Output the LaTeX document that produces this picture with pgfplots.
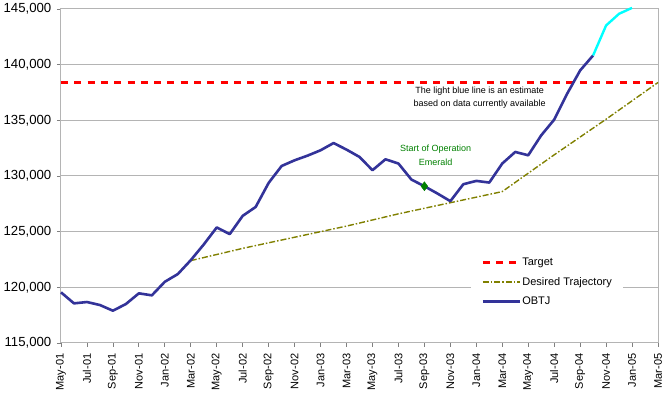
\documentclass[border=0pt]{standalone}
\usepackage{fontspec}
\setmainfont{Liberation Sans}
\usepackage{pgfplots}
\pgfplotsset{compat=1.18}
\definecolor{navyc}{RGB}{51,51,153}
\definecolor{olivec}{RGB}{128,128,0}
\definecolor{gridc}{RGB}{180,180,180}
\definecolor{emerald}{RGB}{0,128,0}
\definecolor{cyanc}{RGB}{0,255,255}
\begin{document}
\begin{tikzpicture}[x=1pt,y=1pt]
\useasboundingbox (-61,-52) rectangle (607,343);
\begin{axis}[
  at={(0,0)}, anchor=south west,
  scale only axis, width=597pt, height=334pt,
  xmin=0, xmax=46, ymin=115000, ymax=145000,
  xtick={0,2,...,46},
  xticklabels={May-01,Jul-01,Sep-01,Nov-01,Jan-02,Mar-02,May-02,Jul-02,Sep-02,Nov-02,Jan-03,Mar-03,May-03,Jul-03,Sep-03,Nov-03,Jan-04,Mar-04,May-04,Jul-04,Sep-04,Nov-04,Jan-05,Mar-05},
  x tick label style={rotate=90, anchor=east, font=\fontsize{11}{11}\selectfont, inner xsep=6.5pt, inner ysep=1pt},
  ytick={115000,120000,125000,130000,135000,140000,145000},
  yticklabels={{115,000},{120,000},{125,000},{130,000},{135,000},{140,000},{145,000}},
  y tick label style={font=\fontsize{13.2}{13.2}\selectfont, inner xsep=5.5pt, inner ysep=1pt},
  ymajorgrids,
  grid style={gridc, line width=1pt},
  axis line style={gridc, line width=1pt},
  tick style={gray, line width=0.8pt},
  tick align=outside, tick pos=left,
  major tick length=4pt,
  clip=false,
  legend cell align=left,
  legend style={at={(0.687,0.278)}, anchor=north west, draw=none, fill=white,
    font=\fontsize{11}{11}\selectfont, row sep=6pt, inner xsep=10pt, inner ysep=6pt,
    nodes={inner xsep=1pt}},
  legend image code/.code={\draw[#1] (0pt,0pt) -- (37pt,0pt);},
]
\addplot[red, line width=3pt, dash pattern=on 7pt off 6.3pt] coordinates {(0,138400) (46,138400)};
\addlegendentry{Target}
\addplot[olivec, line width=1.4pt, dash pattern=on 6pt off 2pt on 1.5pt off 2pt] coordinates {
(10,122400) (14,123500) (18,124500) (22,125500) (26,126600) (30,127600) (34,128600)
(38,131900) (42,135100) (46,138400)};
\addlegendentry{Desired Trajectory}
\addplot[navyc, line width=2.6pt, line join=round] coordinates {
(0,119550) (1,118560) (2,118680) (3,118410) (4,117900) (5,118500) (6,119460) (7,119280)
(8,120500) (9,121190) (10,122440) (11,123850) (12,125380) (13,124780) (14,126420) (15,127220)
(16,129380) (17,130900) (18,131410) (19,131830) (20,132310) (21,132960) (22,132370) (23,131710)
(24,130520) (25,131500) (26,131120) (27,129680) (28,129080) (29,128430) (30,127740) (31,129260)
(32,129560) (33,129410) (34,131120) (35,132160) (36,131860) (37,133650) (38,135060) (39,137390)
(40,139480) (41,140830)};
\addlegendentry{OBTJ}
\addplot[cyanc, line width=2.4pt, line join=round, forget plot] coordinates {
(41,140830) (42,143520) (43,144570) (44,145100)};
\addplot[only marks, mark=diamond*, mark size=4.5pt, color=emerald, forget plot] coordinates {(28,129080)};
\node[align=center, font=\fontsize{9}{13.3}\selectfont] at (axis cs:32.26,137036) {The light blue line is an estimate\\based on data currently available};
\node[align=center, text=emerald, font=\fontsize{9}{13.3}\selectfont] at (axis cs:28.87,131860) {Start of Operation\\Emerald};
\end{axis}
\end{tikzpicture}
\end{document}
